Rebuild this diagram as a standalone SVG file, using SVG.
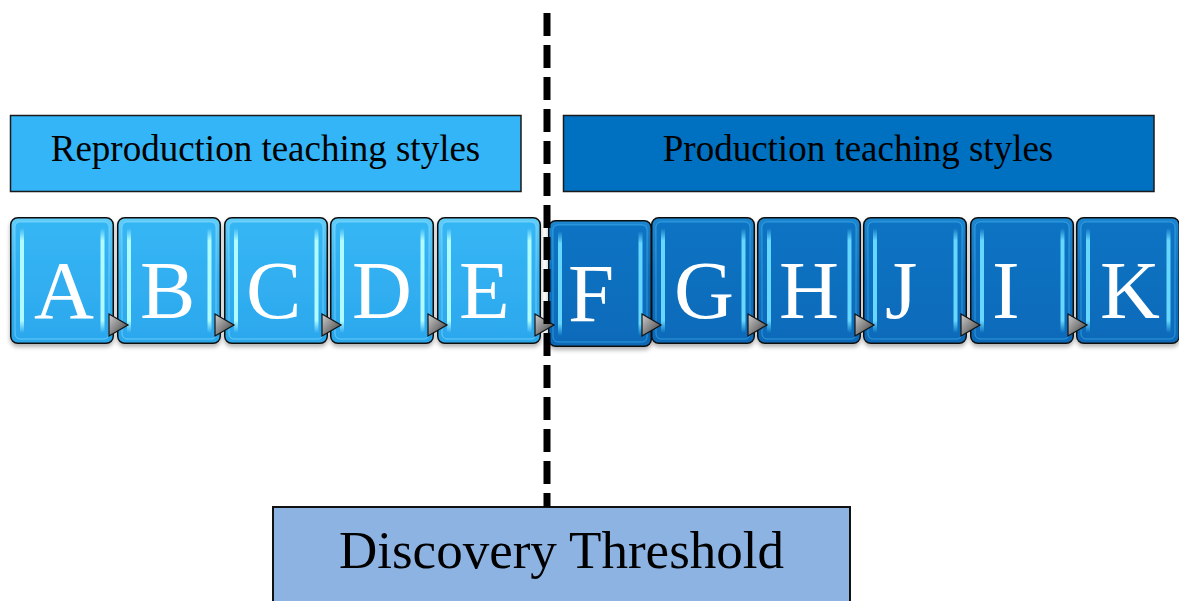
<svg xmlns="http://www.w3.org/2000/svg" xmlns:xlink="http://www.w3.org/1999/xlink" width="1179" height="601" viewBox="0 0 1179 601">
<style>
.hdr{stroke:#1a1a1a;stroke-width:1.5}
.htxt{font-family:"Liberation Serif","Times New Roman",serif;font-size:37px;fill:#000;text-anchor:middle}
.ltr{font-family:"Liberation Serif","Times New Roman",serif;font-size:83px;fill:#fff}
.dtxt{font-family:"Liberation Serif","Times New Roman",serif;font-size:53px;fill:#000;text-anchor:middle}
.tri{fill:url(#gT);stroke:#111;stroke-width:1.2}
</style>
<defs>
<linearGradient id="gL" x1="0" y1="0" x2="0" y2="1">
<stop offset="0" stop-color="#62cdf9"/><stop offset="0.5" stop-color="#33b2f2"/><stop offset="1" stop-color="#2aa6ea"/>
</linearGradient>
<linearGradient id="gLi" x1="0" y1="0" x2="0" y2="1">
<stop offset="0" stop-color="#36b6f4"/><stop offset="1" stop-color="#2ca8ee"/>
</linearGradient>
<linearGradient id="gD" x1="0" y1="0" x2="0" y2="1">
<stop offset="0" stop-color="#1f86d0"/><stop offset="0.5" stop-color="#0b71c1"/><stop offset="1" stop-color="#0968b7"/>
</linearGradient>
<linearGradient id="gDi" x1="0" y1="0" x2="0" y2="1">
<stop offset="0" stop-color="#0c73c3"/><stop offset="1" stop-color="#0a6bba"/>
</linearGradient>
<linearGradient id="sL" x1="0" y1="0" x2="0" y2="1">
<stop offset="0" stop-color="#b0fbff" stop-opacity="0"/><stop offset="0.12" stop-color="#b0fbff"/><stop offset="0.88" stop-color="#b0fbff"/><stop offset="1" stop-color="#b0fbff" stop-opacity="0"/>
</linearGradient>
<linearGradient id="sD" x1="0" y1="0" x2="0" y2="1">
<stop offset="0" stop-color="#66d8ff" stop-opacity="0"/><stop offset="0.12" stop-color="#66d8ff"/><stop offset="0.88" stop-color="#66d8ff"/><stop offset="1" stop-color="#66d8ff" stop-opacity="0"/>
</linearGradient>
<linearGradient id="gT" x1="0" y1="0" x2="1" y2="1">
<stop offset="0" stop-color="#cfcfcf"/><stop offset="1" stop-color="#3a3a3a"/>
</linearGradient>
<filter id="sh" x="-10%" y="-10%" width="120%" height="125%">
<feDropShadow dx="0" dy="3" stdDeviation="2" flood-color="#000" flood-opacity="0.3"/>
</filter>
<g id="lt">
<rect x="0.75" y="0.75" width="102.5" height="125.5" rx="7" fill="url(#gL)" stroke="#111" stroke-width="1.5"/>
<rect x="5" y="5" width="94" height="117" rx="5" fill="url(#gLi)" stroke="#8fe0ff" stroke-opacity="0.6"/>
<rect x="10" y="11" width="4" height="105" rx="1.5" fill="url(#sL)"/>
<rect x="90.5" y="11" width="4" height="105" rx="1.5" fill="url(#sL)"/>
</g>
<g id="dk">
<rect x="0.75" y="0.75" width="102.5" height="125.5" rx="7" fill="url(#gD)" stroke="#111" stroke-width="1.5"/>
<rect x="5" y="5" width="94" height="117" rx="5" fill="url(#gDi)" stroke="#4fb8f0" stroke-opacity="0.6"/>
<rect x="10" y="11" width="4" height="105" rx="1.5" fill="url(#sD)"/>
<rect x="90.5" y="11" width="4" height="105" rx="1.5" fill="url(#sD)"/>
</g>
</defs>
<rect width="1179" height="601" fill="#fff"/>

<g id="reproduction">
<rect class="hdr" x="10.5" y="115.5" width="510.5" height="76" fill="#33b5f7"/>
<text class="htxt" x="265.5" y="161">Reproduction teaching styles</text>
</g>
<g id="production">
<rect class="hdr" x="563.5" y="115.5" width="590.5" height="76" fill="#0070c0"/>
<text class="htxt" x="858" y="161">Production teaching styles</text>
</g>

<g id="node-A" filter="url(#sh)"><use xlink:href="#lt" x="10" y="217"/><text class="ltr" x="34" y="318">A</text></g>
<g id="node-B" filter="url(#sh)"><use xlink:href="#lt" x="117" y="217"/><text class="ltr" x="140" y="318">B</text></g>
<g id="node-C" filter="url(#sh)"><use xlink:href="#lt" x="224" y="217"/><text class="ltr" x="246" y="318">C</text></g>
<g id="node-D" filter="url(#sh)"><use xlink:href="#lt" x="330" y="217"/><text class="ltr" x="352" y="318">D</text></g>
<g id="node-E" filter="url(#sh)"><use xlink:href="#lt" x="437" y="217"/><text class="ltr" x="459" y="318">E</text></g>
<g id="node-F" filter="url(#sh)"><use xlink:href="#dk" x="548" y="220"/><text class="ltr" x="568" y="321">F</text></g>
<g id="node-G" filter="url(#sh)"><use xlink:href="#dk" x="651" y="217"/><text class="ltr" x="674" y="318">G</text></g>
<g id="node-H" filter="url(#sh)"><use xlink:href="#dk" x="757" y="217"/><text class="ltr" x="779" y="318">H</text></g>
<g id="node-J" filter="url(#sh)"><use xlink:href="#dk" x="863" y="217"/><text class="ltr" x="885" y="318">J</text></g>
<g id="node-I" filter="url(#sh)"><use xlink:href="#dk" x="970" y="217"/><text class="ltr" x="992" y="318">I</text></g>
<g id="node-K" filter="url(#sh)"><use xlink:href="#dk" x="1076" y="217"/><text class="ltr" x="1100" y="318">K</text></g>

<g id="discovery">
<rect x="273" y="507" width="577" height="110" fill="#8db3e2" stroke="#111" stroke-width="2"/>
<text class="dtxt" x="561.5" y="568">Discovery Threshold</text>
</g>

<g id="connectors">
<polygon class="tri" points="109,314 128,325 109,336"/>
<polygon class="tri" points="215,314 234,325 215,336"/>
<polygon class="tri" points="322,314 341,325 322,336"/>
<polygon class="tri" points="428,314 447,325 428,336"/>
<polygon class="tri" points="535,314 554,325 535,336"/>
<polygon class="tri" points="642,314 661,325 642,336"/>
<polygon class="tri" points="748,314 767,325 748,336"/>
<polygon class="tri" points="855,314 874,325 855,336"/>
<polygon class="tri" points="961,314 980,325 961,336"/>
<polygon class="tri" points="1068,314 1087,325 1068,336"/>
<line x1="547" y1="13" x2="547" y2="507" stroke="#000" stroke-width="7" stroke-dasharray="23 9"/>
</g>
</svg>
